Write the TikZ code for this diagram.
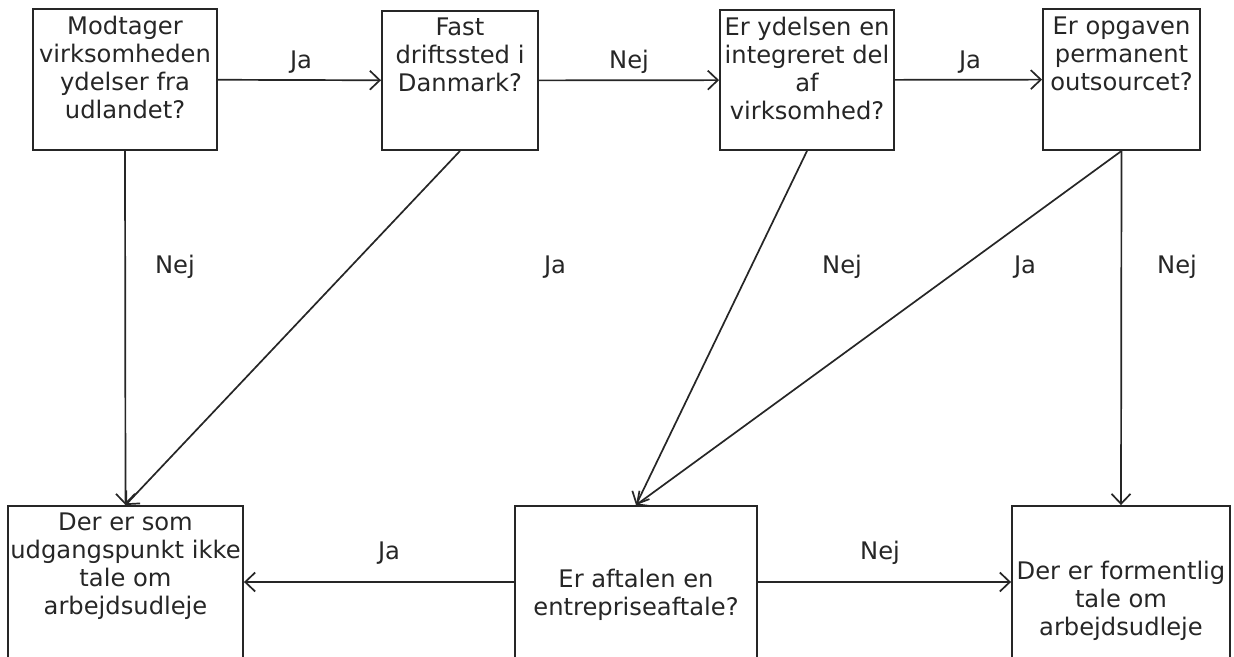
\documentclass[tikz,border=0pt]{standalone}
\usepackage{fontspec}
\setmainfont{DejaVu Sans}
\usetikzlibrary{arrows.meta}
\definecolor{ink}{HTML}{262626}
\newcommand{\bxt}[4]{\parbox[c][#2pt][t]{#1pt}{\centering\rule{0pt}{#3pt}#4}}
\tikzset{
  qbox/.style={draw=ink, line width=1.9pt, inner sep=0pt, text=ink,
    font=\fontsize{24.2}{28}\selectfont},
  lbl/.style={anchor=base, text=ink, inner sep=0pt, font=\fontsize{24.2}{28}\selectfont},
  conn/.style={draw=ink, line width=1.7pt,
    -{Straight Barb[length=10pt,width=19pt,line width=1.7pt]}}
}
\begin{document}
\begin{tikzpicture}[x=1pt,y=-1pt]
\useasboundingbox (0,0) rectangle (1234,656);
\clip (0,0) rectangle (1234,656);
\fill[white] (0,0) rectangle (1234,656);
% top row
\node[qbox] (b1) at (125,79.5) {\bxt{184}{141}{25}{Modtager\\virksomheden\\ydelser fra\\udlandet?}};
\node[qbox] (b2) at (460,80.5) {\bxt{156}{139}{24}{Fast\\driftssted i\\Danmark?}};
\node[qbox] (b3) at (807,80) {\bxt{174}{140}{25}{Er ydelsen en\\integreret del\\af\\virksomhed?}};
\node[qbox] (b4) at (1121.5,79.5) {\bxt{157}{141}{25}{Er opgaven\\permanent\\outsourcet?}};
% bottom row
\node[qbox] (b5) at (125.5,582) {\bxt{235}{152}{24}{Der er som\\udgangspunkt ikke\\tale om\\arbejdsudleje}};
\node[qbox] (b6) at (636,582) {\bxt{242}{152}{81}{Er aftalen en\\entrepriseaftale?}};
\node[qbox] (b7) at (1121,582) {\bxt{218}{152}{73}{Der er formentlig\\tale om\\arbejdsudleje}};
% connectors
\draw[conn] (b1) -- (b2);
\draw[conn] (b2) -- (b3);
\draw[conn] (b3) -- (b4);
\draw[conn] (b1.south) -- (b5.north);
\draw[conn] (b2.south) -- (b5.north);
\draw[conn] (b3.south) -- (b6.north);
\draw[conn] (b4.south) -- (b6.north);
\draw[conn] (b4.south) -- (b7.north);
\draw[conn] (b6) -- (b5);
\draw[conn] (b6) -- (b7);
% labels
\node[lbl] (l12) at (301,68) {Ja};
\node[lbl] (l23) at (629,68) {Nej};
\node[lbl] (l34) at (970,68) {Ja};
\node[lbl] (l15) at (175,273) {Nej};
\node[lbl] (l25) at (555,273) {Ja};
\node[lbl] (l36) at (842,273) {Nej};
\node[lbl] (l46) at (1025,273) {Ja};
\node[lbl] (l47) at (1177,273) {Nej};
\node[lbl] (l65) at (389,559) {Ja};
\node[lbl] (l67) at (880,559) {Nej};
\end{tikzpicture}
\end{document}
